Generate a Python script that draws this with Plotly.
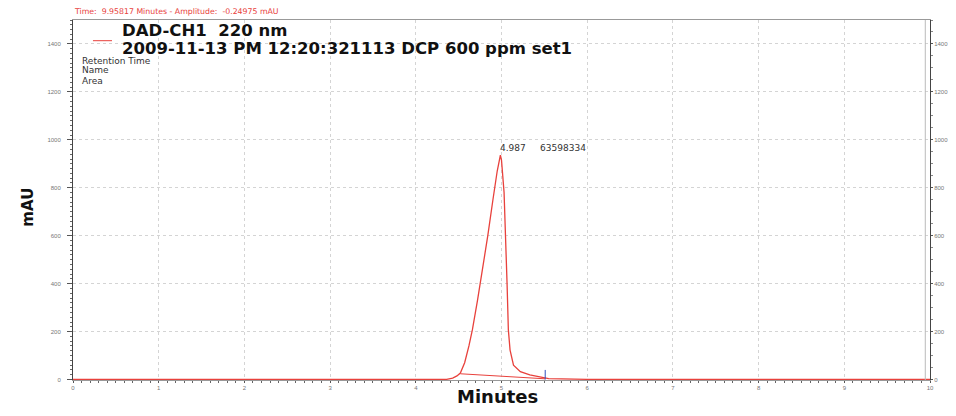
import plotly.graph_objects as go

# Chromatogram signal (minutes, mAU)
time_min = [0, 0.5, 1.0, 1.5, 1.8, 1.95, 2.1, 2.5, 3.0, 3.3, 3.4, 3.5, 4.0, 4.3, 4.36, 4.43, 4.48, 4.52,
            4.57, 4.62, 4.66, 4.72, 4.78, 4.84, 4.9, 4.95, 4.987, 5.0, 5.03, 5.05, 5.065, 5.08,
            5.1, 5.14, 5.22, 5.33, 5.45, 5.55, 6.0, 6.5, 6.8, 6.9, 7.0, 7.5, 8.0, 8.5, 9.0, 9.5, 10.0]
signal_mau = [0, 0, 0, 0, 1, 2, 1, 0, 0, 1, 2, 1, 0, 0, 1, 6, 15, 27,
              70, 140, 207, 330, 460, 600, 750, 870, 936, 915, 780, 600, 400, 207,
              123, 60, 33, 19, 10, 4, 1, 0, 1, 2, 1, 0, 0, 0, 0, 0, 0]

# Integration baseline of the peak
baseline_t = [4.52, 5.51]
baseline_v = [24, 3]

peak_rt = 4.987
peak_area = "63598334"
peak_height = 936
peak_end = 5.51

x_ticks = [0, 1, 2, 3, 4, 5, 6, 7, 8, 9, 10]
y_ticks = [0, 200, 400, 600, 800, 1000, 1200, 1400]

red = "#e8413c"
fig = go.Figure()
fig.add_trace(go.Scatter(x=time_min, y=signal_mau, mode="lines",
                         line=dict(color=red, width=1.3), showlegend=False, hoverinfo="skip"))
fig.add_trace(go.Scatter(x=baseline_t, y=baseline_v, mode="lines",
                         line=dict(color=red, width=1), showlegend=False, hoverinfo="skip"))
fig.add_trace(go.Scatter(x=[0, 10], y=[0, 0], mode="lines", yaxis="y2",
                         line=dict(color="rgba(0,0,0,0)"), showlegend=False, hoverinfo="skip"))
# peak end marker
fig.add_shape(type="line", x0=peak_end, x1=peak_end, y0=0, y1=40, line=dict(color="#3050c0", width=1))
# inner right border
fig.add_shape(type="line", xref="paper", yref="paper", x0=0.9945, x1=0.9945, y0=0, y1=1,
              line=dict(color="#bbbbbb", width=1))

fig.add_annotation(x=peak_rt, y=peak_height, yshift=7,
                   text=f"{peak_rt}&nbsp;&nbsp;&nbsp;&nbsp;&nbsp;{peak_area}",
                   showarrow=False, xanchor="left", yanchor="middle", xshift=-2,
                   font=dict(size=9, color="#333", family="DejaVu Sans"))

tick_font = dict(size=6, color="#777", family="Arial")
fig.update_layout(
    width=940, height=400,
    margin=dict(l=65, r=18, t=12, b=28),
    paper_bgcolor="white", plot_bgcolor="white",
    xaxis=dict(range=[0, 10], tickvals=x_ticks, ticks="outside", ticklen=2, tickfont=tick_font,
               automargin=False, ticklabelstandoff=0,
               showgrid=True, gridcolor="#d4d4d4", griddash="dot", zeroline=False,
               showline=True, linecolor="#999", mirror=True, tickcolor="#555",
               minor=dict(ticks="outside", ticklen=2, dtick=0.1, tickcolor="#666", showgrid=False)),
    yaxis=dict(range=[-2, 1500], tickvals=y_ticks, ticks="outside", ticklen=5, tickfont=tick_font,
               automargin=False, ticklabelstandoff=5, tickcolor="#555",
               showgrid=True, gridcolor="#d4d4d4", griddash="dot", zeroline=False,
               showline=True, linecolor="#444",
               minor=dict(ticks="outside", ticklen=2, dtick=20, tickcolor="#666", showgrid=False)),
    yaxis2=dict(range=[-2, 1500], overlaying="y", side="right", tickvals=y_ticks, ticks="outside",
                automargin=False, ticklabelstandoff=0,
                ticklen=2, tickfont=dict(size=6, color="#777", family="Arial"), showgrid=False,
                zeroline=False, showline=True, linecolor="#444", tickcolor="#555",
                minor=dict(ticks="outside", ticklen=2, dtick=50, tickcolor="#888")),
)

fig.add_annotation(xref="paper", yref="paper", x=0.495, y=-0.0778, yanchor="bottom", showarrow=False,
                   borderpad=0, text="<b>Minutes</b>",
                   font=dict(size=18, color="#111", family="DejaVu Sans"))
fig.add_annotation(xref="paper", x=-0.052, xanchor="center", yref="paper", y=0.48, yanchor="middle",
                   showarrow=False, text="<b>mAU</b>", textangle=-90,
                   font=dict(size=15, color="#111", family="DejaVu Sans"))

fig.add_annotation(xref="paper", yref="paper", x=-0.001, xanchor="left", y=1.025, yanchor="middle",
                   showarrow=False, text="Time:&nbsp;&nbsp;9.95817 Minutes - Amplitude:&nbsp;&nbsp;-0.24975 mAU",
                   font=dict(size=7.8, color=red, family="DejaVu Sans"))
fig.add_shape(type="line", xref="paper", yref="paper", x0=0.0233, x1=0.0455, y0=0.9425, y1=0.9425,
              line=dict(color=red, width=1))
fig.add_annotation(xref="paper", yref="paper", x=0.0543, xanchor="left", y=0.971, yanchor="middle",
                   showarrow=False, text="<b>DAD-CH1&nbsp;&nbsp;220 nm</b>",
                   font=dict(size=16.5, color="#111", family="DejaVu Sans"))
fig.add_annotation(xref="paper", yref="paper", x=0.0543, xanchor="left", y=0.921, yanchor="middle",
                   showarrow=False, text="<b>2009-11-13 PM 12:20:321113 DCP 600 ppm set1</b>",
                   font=dict(size=16.5, color="#111", family="DejaVu Sans"))
for label, ypos in zip(["Retention Time", "Name", "Area"], [0.885, 0.860, 0.831]):
    fig.add_annotation(xref="paper", yref="paper", x=0.0082, xanchor="left", y=ypos, yanchor="middle",
                       showarrow=False, text=label,
                       font=dict(size=9, color="#333", family="DejaVu Sans"))

fig.write_html("out.html")
